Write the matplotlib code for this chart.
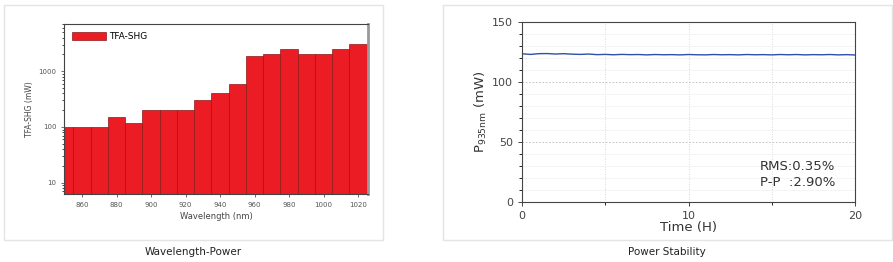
import numpy as np
import matplotlib.pyplot as plt
from matplotlib.patches import Rectangle
from matplotlib.ticker import LogLocator, NullFormatter, MultipleLocator

# wavelength-power data (log scale bars)
wavelength = [850, 860, 870, 880, 890, 900, 910, 920, 930, 940, 950,
              960, 970, 980, 990, 1000, 1010, 1020]
power_shg = [100, 100, 100, 150, 120, 200, 200, 200, 300, 400, 600,
             1850, 2000, 2500, 2000, 2000, 2500, 3100]

# power stability data
hours = np.arange(0, 20.5, 0.5)
power_935 = [123.5, 123.0, 123.6, 123.7, 123.3, 123.6, 123.2, 123.0, 123.3, 122.8,
             123.0, 122.7, 123.0, 122.8, 122.9, 122.6, 122.9, 122.7, 122.8, 122.6,
             122.9, 122.7, 122.6, 122.9, 122.7, 122.8, 122.6, 122.9, 122.7, 122.8,
             122.6, 122.9, 122.7, 122.9, 122.6, 122.8, 122.7, 122.9, 122.6, 122.8,
             122.5]

fig = plt.figure(figsize=(8.93, 2.62), dpi=100)
W, H = 893, 262

# panel frames
for x0, x1 in [(4, 383), (443, 892)]:
    fig.patches.append(Rectangle((x0 / W, 1 - 240 / H), (x1 - x0) / W, 235 / H,
                                 transform=fig.transFigure, fill=False,
                                 edgecolor='#e4e4e4', lw=1))
fig.text(193 / W, 1 - 252 / H, 'Wavelength-Power', ha='center', va='center',
         fontsize=7.5, color='#222222')
fig.text(667 / W, 1 - 252 / H, 'Power Stability', ha='center', va='center',
         fontsize=7.5, color='#222222')

# left chart
ax1 = fig.add_axes([64 / W, 1 - 194 / H, 304 / W, 170 / H])
ax1.bar(wavelength, power_shg, width=10, color='#ec1c24', edgecolor='#8a1a1a',
        linewidth=0.5, label='TFA-SHG')
ax1.set_yscale('log')
ax1.set_xlim(849.5, 1025.8)
ax1.set_ylim(6.3, 7000)
ax1.set_xticks(np.arange(860, 1021, 20))
ax1.yaxis.set_minor_locator(LogLocator(base=10, subs=np.arange(2, 10), numticks=10))
ax1.yaxis.set_minor_formatter(NullFormatter())
ax1.set_yticks([10, 100, 1000])
ax1.set_yticklabels(['10', '100', '1000'])
ax1.tick_params(labelsize=5, colors='#555555', length=2, width=0.6)
ax1.tick_params(which='minor', length=1.2, width=0.5)
ax1.set_xlabel('Wavelength (nm)', fontsize=6, color='#444444', labelpad=3)
ax1.set_ylabel('TFA-SHG (mW)', fontsize=5.5, color='#444444', labelpad=3)
for s in ['top', 'left', 'bottom']:
    ax1.spines[s].set_color('#444444')
    ax1.spines[s].set_linewidth(0.8)
ax1.spines['right'].set_color('#999999')
ax1.spines['right'].set_linewidth(2)
ax1.legend(loc='upper left', fontsize=6.5, frameon=False, handlelength=3.8,
           handleheight=0.9, handletextpad=0.3, borderaxespad=0.5)

# right chart
ax2 = fig.add_axes([522 / W, 1 - 202 / H, 333 / W, 180 / H])
ax2.plot(hours, power_935, color='#2f4fa8', lw=1)
ax2.set_xlim(0, 20)
ax2.set_ylim(0, 150)
ax2.set_xticks([0, 10, 20])
ax2.set_xticklabels(['0', '10', '20'])
ax2.xaxis.set_minor_locator(MultipleLocator(5))
ax2.set_yticks([0, 50, 100, 150])
ax2.yaxis.set_minor_locator(MultipleLocator(10))
ax2.grid(True, which='major', axis='y', ls=(0, (2, 2)), color='#bbbbbb', lw=0.6)
ax2.grid(True, which='both', axis='x', ls=(0, (1, 2)), color='#cccccc', lw=0.6)
ax2.grid(True, which='minor', axis='y', ls='-', color='#f0f0f0', lw=0.5)
ax2.tick_params(labelsize=8, colors='#444444', length=3, width=0.7)
ax2.tick_params(which='minor', length=2, width=0.6)
ax2.set_xlabel('Time (H)', fontsize=9.5, color='#333333', labelpad=0)
ax2.set_ylabel(r'P$_{\mathregular{935nm}}$ (mW)', fontsize=9.5, color='#333333', labelpad=2)
for s in ax2.spines.values():
    s.set_color('#444444')
    s.set_linewidth(0.8)
ax2.text(0.715, 0.195, 'RMS:0.35%', transform=ax2.transAxes, fontsize=9.5,
         color='#333333', va='center')
ax2.text(0.715, 0.11, 'P-P  :2.90%', transform=ax2.transAxes, fontsize=9.5,
         color='#333333', va='center')

fig.savefig('out.png', dpi=100)
